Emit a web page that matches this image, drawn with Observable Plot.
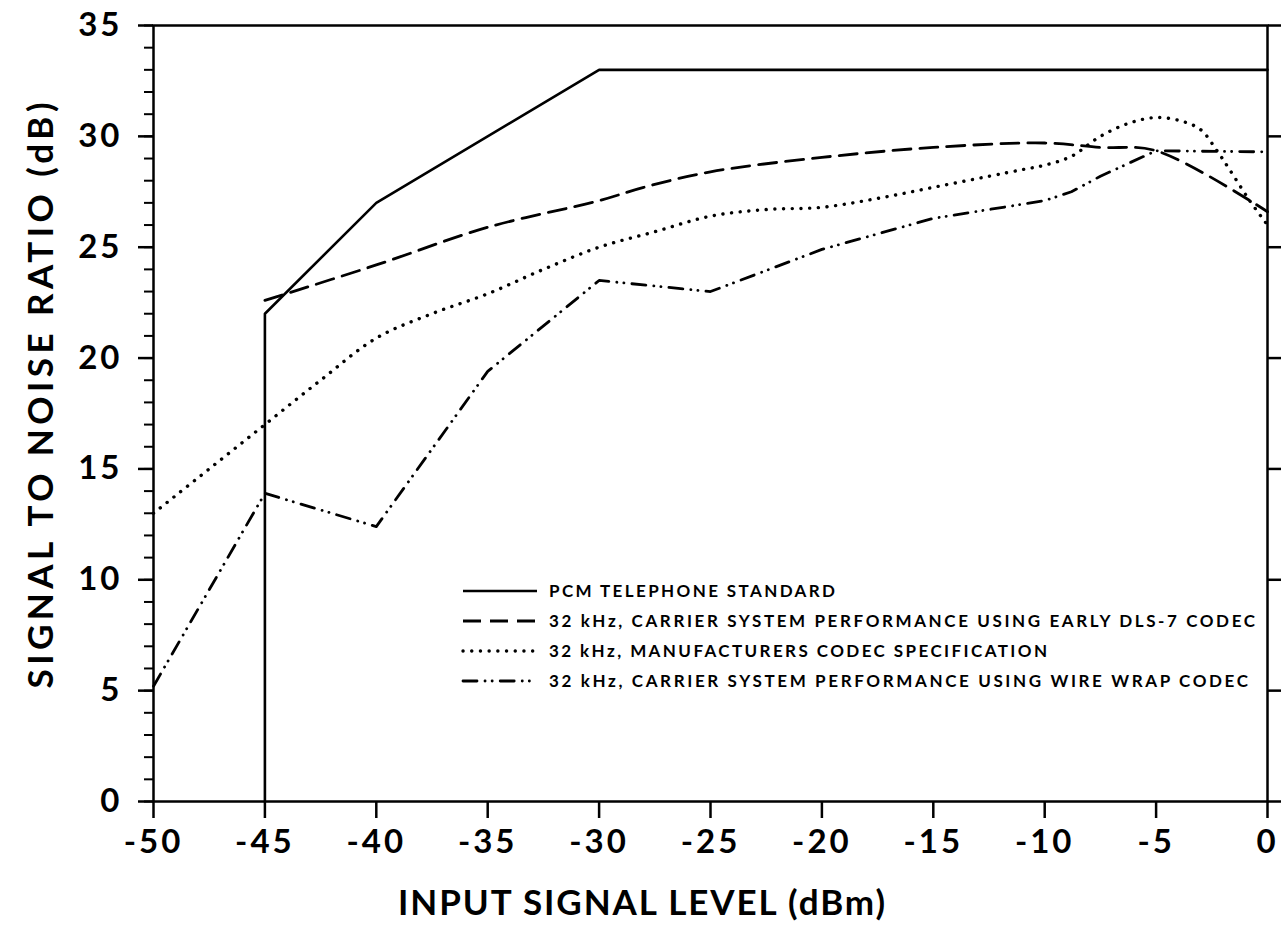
<!DOCTYPE html>
<html>
<head>
<meta charset="utf-8">
<script src="https://cdn.jsdelivr.net/npm/d3@7"></script>
<script src="https://cdn.jsdelivr.net/npm/@observablehq/plot@0.6"></script>
<style>
  body { margin: 0; background: #fff; }
  #chart { width: 1281px; height: 938px; }
</style>
</head>
<body>
<div id="chart"></div>
<script>
// Axis ticks
const xTicks = [-50, -45, -40, -35, -30, -25, -20, -15, -10, -5, 0];
const yTicks = [0, 5, 10, 15, 20, 25, 30, 35];
const yMinorTicks = d3.range(0, 36, 1);

// PCM telephone standard (solid)
const pcmX = [-45, -45, -40, -30, 0];
const pcmY = [0, 22, 27, 33, 33];

// 32 kHz carrier system, early DLS-7 codec (dashed)
const dlsX = [-45, -40, -35, -30, -28, -25, -20, -15, -10, -7.5, -5, 0];
const dlsY = [22.6, 24.2, 25.9, 27.1, 27.7, 28.4, 29.05, 29.5, 29.7, 29.5, 29.35, 26.6];

// 32 kHz manufacturers codec specification (dotted)
const mfrX = [-50, -47.5, -45, -42.5, -40, -37.5, -35, -32.5, -30, -27.5, -25, -22.5, -20, -17.5, -15, -12.5, -11, -10, -8.8, -7.5, -6.2, -5, -3.9, -3, -2.3, -1.7, -0.8, 0];
const mfrY = [13.0, 15.0, 17.0, 19.0, 20.9, 22.0, 22.9, 24.0, 25.0, 25.7, 26.4, 26.7, 26.8, 27.2, 27.7, 28.2, 28.5, 28.7, 29.1, 30.0, 30.6, 30.85, 30.7, 30.3, 29.4, 28.5, 27.1, 26.0];

// 32 kHz carrier system, wire wrap codec (dash-dot)
const wireX = [-50, -45, -40, -35, -30, -25, -20, -15, -10, -8.8, -7.5, -6.2, -5, 0];
const wireY = [5.2, 13.9, 12.4, 19.4, 23.5, 23.0, 24.9, 26.3, 27.1, 27.5, 28.2, 28.8, 29.35, 29.3];

const legendLabels = [
  "PCM TELEPHONE STANDARD",
  "32 kHz, CARRIER SYSTEM PERFORMANCE USING EARLY DLS-7 CODEC",
  "32 kHz, MANUFACTURERS CODEC SPECIFICATION",
  "32 kHz, CARRIER SYSTEM PERFORMANCE USING WIRE WRAP CODEC"
];
const xTitle = "INPUT SIGNAL LEVEL (dBm)";
const yTitle = "SIGNAL TO NOISE RATIO (dB)";

const toRows = (xs, ys) => xs.map((x, i) => ({x, y: ys[i]}));
const pcm = toRows(pcmX, pcmY);
const dls = toRows(dlsX, dlsY);
const mfr = toRows(mfrX, mfrY);
const wire = toRows(wireX, wireY);

// Stroke styles shared by the curves and the key samples
const styles = [
  {dash: null, width: 2.6, cap: "butt"},
  {dash: "18 9", width: 2.8, cap: "butt"},
  {dash: "0.1 8.6", width: 3.4, cap: "round"},
  {dash: "14 8 0.1 7 0.1 8", width: 2.8, cap: "round"}
];

const font = "Lato, 'Open Sans', 'DejaVu Sans', sans-serif";
const fmt = d => String(d);

const chart = Plot.plot({
  width: 1281,
  height: 938,
  marginLeft: 153,
  marginRight: 14,
  marginTop: 25,
  marginBottom: 137,
  x: {domain: [-50, 0]},
  y: {domain: [0, 35]},
  style: {fontFamily: font, background: "#fff", color: "#000"},
  marks: [
    Plot.axisY(yMinorTicks, {tickSize: 9, text: null, strokeWidth: 2, label: null}),
    Plot.axisY(yTicks, {tickSize: 15, tickPadding: 16, fontSize: 33, fontWeight: 700, strokeWidth: 2.5, tickFormat: fmt, label: null}),
    Plot.axisY(yTicks, {anchor: "right", tickSize: 14, text: null, strokeWidth: 2.5, label: null}),
    Plot.axisX(xTicks, {tickSize: 17, tickPadding: 11, fontSize: 33, fontWeight: 700, strokeWidth: 2.5, tickFormat: fmt, label: null}),
    Plot.frame({strokeWidth: 2.5}),
    Plot.line(pcm, {x: "x", y: "y", strokeWidth: styles[0].width}),
    Plot.line(dls, {x: "x", y: "y", curve: "catmull-rom", strokeWidth: styles[1].width, strokeDasharray: styles[1].dash}),
    Plot.line(mfr, {x: "x", y: "y", curve: "catmull-rom", strokeWidth: styles[2].width, strokeDasharray: styles[2].dash, strokeLinecap: "round"}),
    Plot.line(wire, {x: "x", y: "y", strokeWidth: styles[3].width, strokeDasharray: styles[3].dash, strokeLinecap: "round"}),
    Plot.text([xTitle], {text: d => d, frameAnchor: "bottom", dx: -69, dy: 113, fontSize: 35, fontWeight: 700, className: "x-title"}),
    Plot.text([yTitle], {text: d => d, frameAnchor: "left", rotate: -90, dx: -112, dy: -18, fontSize: 35, fontWeight: 700, className: "y-title"})
  ]
});

const svg = d3.select(chart);
svg.selectAll("g[aria-label='y-axis tick label'] text, g[aria-label='x-axis tick label'] text").style("letter-spacing", "3px");
// Titles are stretched to a fixed length, laid out from their start
const xLen = 487, yLen = 586;
svg.select(".x-title text").attr("text-anchor", "start").attr("x", -xLen / 2)
  .attr("textLength", xLen).attr("lengthAdjust", "spacing");
svg.select(".y-title text").attr("text-anchor", "start").attr("x", -yLen / 2)
  .attr("textLength", yLen).attr("lengthAdjust", "spacing");

// Key inside the plot area
const rowY = [591, 621, 651, 681];
const textLen = [286, 706, 498, 699];
const key = svg.append("g").attr("font-family", font).attr("font-size", 17)
  .attr("font-weight", 700).attr("text-anchor", "start");
legendLabels.forEach((label, i) => {
  const s = styles[i];
  key.append("line")
    .attr("x1", 463).attr("x2", 537).attr("y1", rowY[i]).attr("y2", rowY[i])
    .attr("stroke", "#000").attr("stroke-width", s.width)
    .attr("stroke-dasharray", s.dash).attr("stroke-linecap", s.cap);
  key.append("text")
    .attr("x", 549).attr("y", rowY[i]).attr("dy", "0.35em")
    .attr("textLength", textLen[i]).attr("lengthAdjust", "spacing")
    .text(label);
});

document.getElementById("chart").appendChild(chart);
</script>
</body>
</html>
